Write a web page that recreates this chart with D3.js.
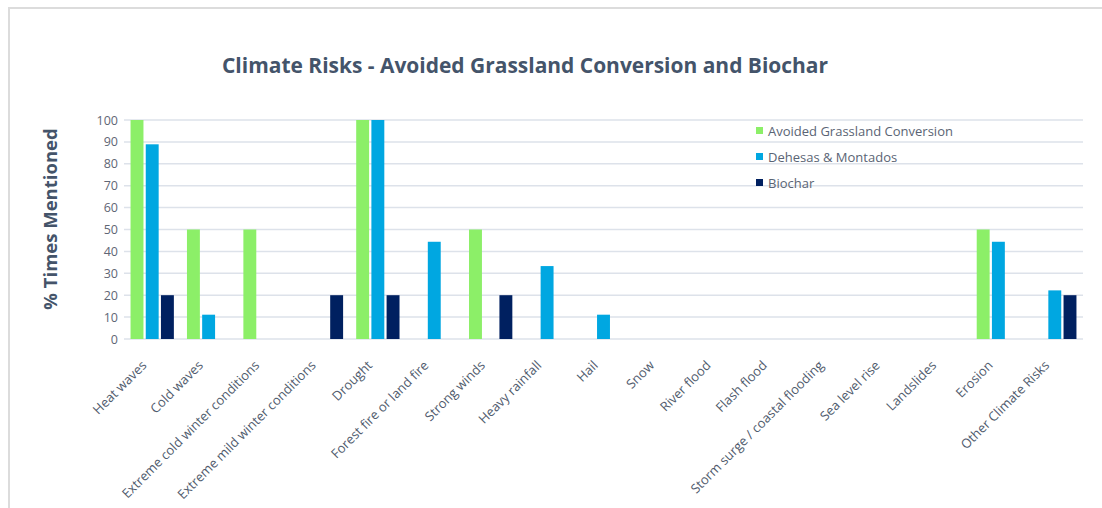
<!DOCTYPE html>
<html>
<head>
<meta charset="utf-8">
<script src="https://cdn.jsdelivr.net/npm/d3@7"></script>
<style>
  html, body { margin: 0; padding: 0; background: #ffffff; }
  svg { display: block; }
  text { font-family: "Open Sans", "Noto Sans", sans-serif; }
</style>
</head>
<body>
<svg id="chart" width="1102" height="508"></svg>
<script>
// Climate risk categories (x axis)
const categories = [
  "Heat waves", "Cold waves", "Extreme cold winter conditions",
  "Extreme mild winter conditions", "Drought", "Forest fire or land fire",
  "Strong winds", "Heavy rainfall", "Hail", "Snow", "River flood",
  "Flash flood", "Storm surge / coastal flooding", "Sea level rise",
  "Landslides", "Erosion", "Other Climate Risks"
];

// Series names
const seriesNames = ["Avoided Grassland Conversion", "Dehesas & Montados", "Biochar"];

// % of times each risk was mentioned, per series
const avoidedGrassland = [100, 50, 50, 0, 100, 0, 50, 0, 0, 0, 0, 0, 0, 0, 0, 50, 0];
const dehesasMontados  = [88.9, 11.1, 0, 0, 100, 44.4, 0, 33.3, 11.1, 0, 0, 0, 0, 0, 0, 44.4, 22.2];
const biochar          = [20, 0, 0, 20, 20, 0, 20, 0, 0, 0, 0, 0, 0, 0, 0, 0, 20];

// Y axis ticks
const yTicks = [0, 10, 20, 30, 40, 50, 60, 70, 80, 90, 100];

const seriesValues = [avoidedGrassland, dehesasMontados, biochar];
const colors = ["#8cef68", "#00a7e1", "#002060"];

const svg = d3.select("#chart");

// Outer frame
svg.append("path")
  .attr("d", "M9,508 V8 H1102")
  .attr("fill", "none")
  .attr("stroke", "#dcdcdc")
  .attr("stroke-width", 2);

const plot = { left: 124, right: 1083, top: 120, bottom: 339 };

const x0 = d3.scaleBand()
  .domain(categories)
  .range([plot.left, plot.right])
  .paddingInner(0.232)
  .paddingOuter(0.116);

const x1 = d3.scaleBand()
  .domain(seriesNames)
  .range([0, x0.bandwidth()])
  .paddingInner(0.15);

const y = d3.scaleLinear()
  .domain([0, 100])
  .range([plot.bottom, plot.top]);

// Gridlines
svg.append("g")
  .selectAll("line")
  .data(yTicks)
  .join("line")
  .attr("x1", plot.left)
  .attr("x2", plot.right)
  .attr("y1", d => y(d))
  .attr("y2", d => y(d))
  .attr("stroke", "#dde2ea")
  .attr("stroke-width", 1.5);

// Y axis labels
const yAxis = d3.axisLeft(y)
  .tickValues(yTicks)
  .tickSize(0)
  .tickPadding(5);

svg.append("g")
  .attr("transform", `translate(${plot.left - 1},0)`)
  .call(yAxis)
  .call(g => g.select(".domain").remove())
  .call(g => g.selectAll("text")
    .attr("fill", "#5f6675")
    .attr("font-size", 12.5)
    .attr("font-family", "'Open Sans', sans-serif"));

// Bars
const rows = categories.map((c, i) => ({
  category: c,
  values: seriesNames.map((s, k) => ({ series: s, value: seriesValues[k][i], color: colors[k] }))
}));

svg.append("g")
  .selectAll("g")
  .data(rows)
  .join("g")
  .attr("transform", d => `translate(${x0(d.category)},0)`)
  .selectAll("rect")
  .data(d => d.values.filter(v => v.value > 0))
  .join("rect")
  .attr("x", d => x1(d.series))
  .attr("width", x1.bandwidth())
  .attr("y", d => y(d.value))
  .attr("height", d => y(0) - y(d.value))
  .attr("fill", d => d.color);

// X axis category labels
const xAxis = d3.axisBottom(x0).tickSize(0).tickPadding(0);
svg.append("g")
  .attr("transform", `translate(0,${plot.bottom})`)
  .call(xAxis)
  .call(g => g.select(".domain").remove())
  .call(g => g.selectAll("text")
    .attr("fill", "#505b6d")
    .attr("font-size", 13)
    .attr("font-family", "'Open Sans', sans-serif")
    .attr("text-anchor", "end")
    .attr("dy", "0.35em")
    .attr("transform", "translate(-8,24) rotate(-45)"));

// Title
svg.append("text")
  .attr("x", 525)
  .attr("y", 73)
  .attr("text-anchor", "middle")
  .attr("font-size", 22)
  .attr("font-weight", 700)
  .attr("fill", "#44546a")
  .attr("textLength", 606)
  .attr("lengthAdjust", "spacingAndGlyphs")
  .text("Climate Risks - Avoided Grassland Conversion and Biochar");

// Y axis title
svg.append("text")
  .attr("transform", "translate(57,219) rotate(-90)")
  .attr("text-anchor", "middle")
  .attr("font-size", 18.5)
  .attr("font-weight", 700)
  .attr("fill", "#44546a")
  .text("% Times Mentioned");

// Legend
const legend = svg.append("g").attr("transform", "translate(756,131)");
const item = legend.selectAll("g")
  .data(seriesNames)
  .join("g")
  .attr("transform", (d, i) => `translate(0,${i * 26})`);
item.append("rect")
  .attr("x", 0)
  .attr("y", -4)
  .attr("width", 7)
  .attr("height", 7)
  .attr("fill", (d, i) => colors[i]);
item.append("text")
  .attr("x", 12)
  .attr("y", 0)
  .attr("dy", "0.35em")
  .attr("font-size", 13)
  .attr("fill", "#5a6474")
  .text(d => d);
</script>
</body>
</html>
